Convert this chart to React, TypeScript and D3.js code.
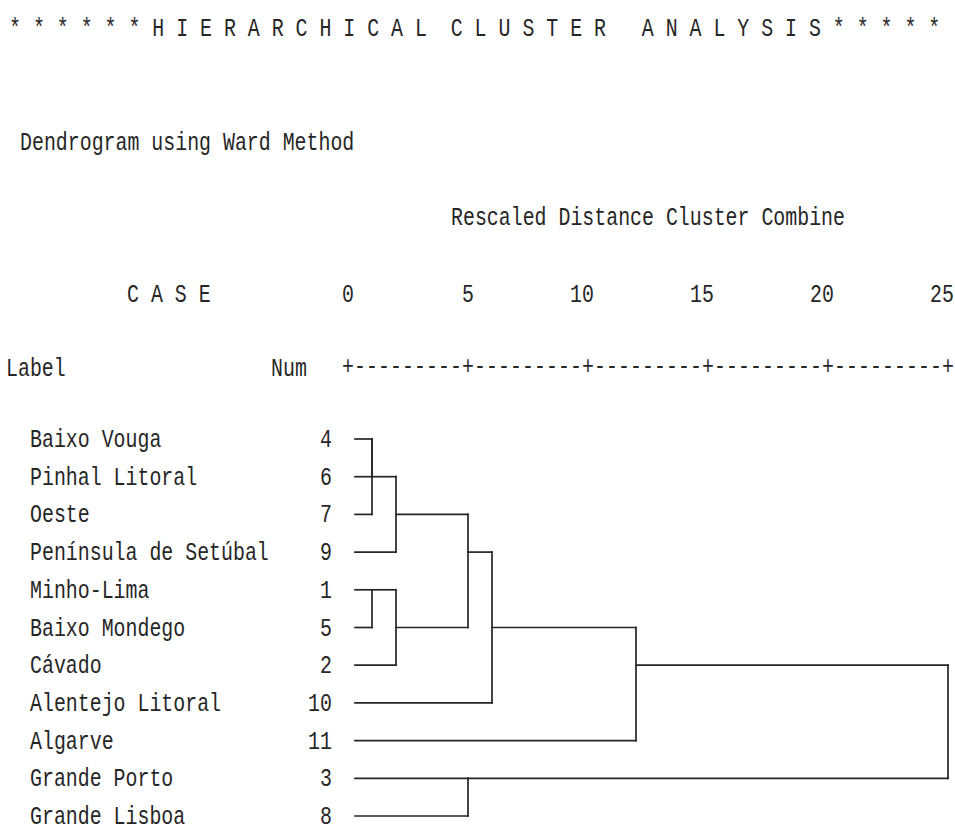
import React from "react";
import * as d3 from "d3";

// ---------- data ----------
const titleText =
  "* * * * * * H I E R A R C H I C A L  C L U S T E R   A N A L Y S I S * * * * *";
const subtitleText = "Dendrogram using Ward Method";
const axisTitleText = "Rescaled Distance Cluster Combine";
const caseHeader = "C A S E";
const labelHeader = "Label";
const numHeader = "Num";

const caseLabels = [
  "Baixo Vouga",
  "Pinhal Litoral",
  "Oeste",
  "Península de Setúbal",
  "Minho-Lima",
  "Baixo Mondego",
  "Cávado",
  "Alentejo Litoral",
  "Algarve",
  "Grande Porto",
  "Grande Lisboa",
];
const caseNums = [4, 6, 7, 9, 1, 5, 2, 10, 11, 3, 8];

const axisTicks = [0, 5, 10, 15, 20, 25];

// merges: positive = case number, negative = -(merge index, 1-based)
const mergeA = [4, -1, -2, 1, -4, -3, -6, -7, 3, -8];
const mergeB = [6, 7, 9, 5, 2, -5, 10, 11, 8, -9];
const mergeDist = [1, 1, 2, 1, 2, 5, 6, 12, 5, 25];

// ---------- layout ----------
const W = 955;
const H = 825;
const FONT = "'Liberation Mono', 'DejaVu Sans Mono', monospace";
const FS = 19.9;
const SY = 1.32;
const INK = "#262626";

const x = d3.scaleLinear().domain([0, 25]).range([348, 948]);
const y = d3.scaleLinear().domain([0, caseLabels.length - 1]).range([439, 816]);

type Node = { row: number; x: number };

function buildSegments() {
  const leafStart = x(0) + 7;
  const segs: { x1: number; y1: number; x2: number; y2: number }[] = [];
  const nodes: Node[] = [];
  const get = (id: number): Node =>
    id > 0 ? { row: caseNums.indexOf(id), x: leafStart } : nodes[-id - 1];
  mergeA.forEach((a, i) => {
    const na = get(a);
    const nb = get(mergeB[i]);
    const mx = x(mergeDist[i]);
    segs.push({ x1: na.x, y1: y(na.row), x2: mx, y2: y(na.row) });
    segs.push({ x1: nb.x, y1: y(nb.row), x2: mx, y2: y(nb.row) });
    const top = Math.min(na.row, nb.row);
    const bottom = Math.max(na.row, nb.row);
    segs.push({ x1: mx, y1: y(top), x2: mx, y2: y(bottom) });
    nodes.push({ row: Math.floor((top + bottom) / 2), x: mx });
  });
  return segs;
}

function T({
  tx,
  ty,
  children,
  anchor = "start",
  sy = SY,
  textLength,
}: {
  tx: number;
  ty: number;
  children: React.ReactNode;
  anchor?: string;
  sy?: number;
  textLength?: number;
}) {
  return (
    <text
      transform={`translate(${tx},${ty}) scale(1,${sy})`}
      x={0}
      y={0}
      textAnchor={anchor as any}
      fontFamily={FONT}
      fontSize={FS}
      fill={INK}
      xmlSpace="preserve"
      style={{ whiteSpace: "pre" }}
      textLength={textLength}
      lengthAdjust={textLength ? "spacing" : undefined}
    >
      {children}
    </text>
  );
}

export default function App() {
  const segs = buildSegments();
  const ruler = "+" + axisTicks.slice(1).map(() => "---------+").join("");
  const rulerLeft = x(0) - 6;
  const rulerRight = x(25) + 6;
  return (
    <svg
      width={W}
      height={H}
      style={{ position: "absolute", left: 0, top: 0, background: "#fff" }}
    >
      <rect width={W} height={H} fill="#fff" />
      <T tx={9} ty={36}>{titleText}</T>
      <T tx={20} ty={150}>{subtitleText}</T>
      <T tx={451} ty={225}>{axisTitleText}</T>
      <T tx={127} ty={302}>{caseHeader}</T>
      {axisTicks.map((t) => (
        <T key={t} tx={x(t) + 6} ty={302} anchor="end">
          {String(t)}
        </T>
      ))}
      <T tx={6} ty={376}>{labelHeader}</T>
      <T tx={271} ty={376}>{numHeader}</T>
      <T tx={rulerLeft} ty={374} textLength={rulerRight - rulerLeft}>
        {ruler}
      </T>
      {caseLabels.map((lab, i) => (
        <g key={lab}>
          <T tx={30} ty={y(i) + 8}>{lab}</T>
          <T tx={332} ty={y(i) + 8} anchor="end">
            {String(caseNums[i])}
          </T>
        </g>
      ))}
      <g stroke={INK} strokeWidth={1.7} fill="none" strokeLinecap="square">
        {segs.map((s, i) => (
          <line key={i} x1={s.x1} y1={s.y1} x2={s.x2} y2={s.y2} />
        ))}
      </g>
    </svg>
  );
}
